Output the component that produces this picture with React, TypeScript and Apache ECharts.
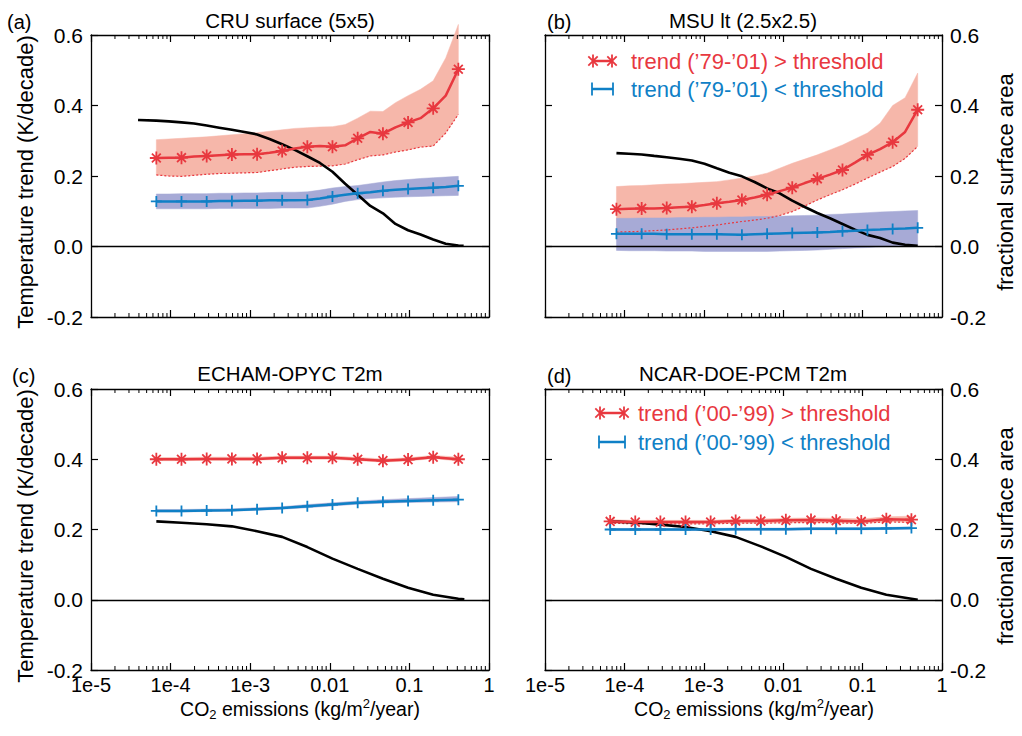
import React, { useEffect, useRef } from "react";
import * as echarts from "echarts";

// ---------- data ----------
const X_LABELS = ["1e-5", "1e-4", "1e-3", "0.01", "0.1", "1"];
const Y_TICKS = [-0.2, 0.0, 0.2, 0.4, 0.6];

const X_A = [6.62e-5, 9.53e-5, 1.37e-4, 1.97e-4, 2.84e-4, 4.08e-4, 5.89e-4, 8.47e-4, 1.22e-3, 1.75e-3, 2.52e-3, 3.63e-3, 5.22e-3, 7.52e-3, 1.08e-2, 1.56e-2, 2.24e-2, 3.23e-2, 4.65e-2, 6.68e-2, 9.62e-2, 0.138, 0.199, 0.286, 0.412];
const X_A13 = [6.62e-5, 1.37e-4, 2.84e-4, 5.89e-4, 1.22e-3, 2.52e-3, 5.22e-3, 1.08e-2, 2.24e-2, 4.65e-2, 9.62e-2, 0.199, 0.412];
const X_B = [7.94e-5, 1.14e-4, 1.65e-4, 2.37e-4, 3.41e-4, 4.9e-4, 7.07e-4, 1.02e-3, 1.46e-3, 2.1e-3, 3.02e-3, 4.36e-3, 6.27e-3, 9.02e-3, 1.3e-2, 1.87e-2, 2.69e-2, 3.88e-2, 5.58e-2, 8.02e-2, 0.115, 0.166, 0.239, 0.343, 0.494];

// (a) CRU surface
const RED_A = [0.251, 0.252, 0.252, 0.255, 0.257, 0.259, 0.261, 0.262, 0.262, 0.266, 0.271, 0.278, 0.283, 0.285, 0.283, 0.287, 0.307, 0.325, 0.32, 0.338, 0.352, 0.364, 0.392, 0.428, 0.503];
const RED_A_HI = [0.303, 0.305, 0.307, 0.309, 0.311, 0.314, 0.317, 0.32, 0.323, 0.327, 0.331, 0.335, 0.337, 0.339, 0.34, 0.346, 0.364, 0.384, 0.383, 0.408, 0.428, 0.446, 0.47, 0.535, 0.63];
const RED_A_LO = [0.203, 0.2, 0.199, 0.202, 0.205, 0.207, 0.208, 0.209, 0.21, 0.215, 0.22, 0.225, 0.227, 0.228, 0.229, 0.234, 0.246, 0.257, 0.26, 0.268, 0.274, 0.282, 0.285, 0.322, 0.375];
const BLUE_A = [0.128, 0.128, 0.128, 0.128, 0.128, 0.129, 0.129, 0.13, 0.13, 0.131, 0.131, 0.131, 0.132, 0.136, 0.142, 0.147, 0.151, 0.154, 0.158, 0.161, 0.163, 0.165, 0.167, 0.169, 0.172];
const BLUE_A_HI = [0.149, 0.149, 0.15, 0.15, 0.15, 0.151, 0.151, 0.152, 0.152, 0.153, 0.154, 0.154, 0.155, 0.16, 0.166, 0.17, 0.173, 0.178, 0.183, 0.187, 0.19, 0.193, 0.195, 0.197, 0.199];
const BLUE_A_LO = [0.107, 0.107, 0.107, 0.107, 0.107, 0.108, 0.108, 0.108, 0.108, 0.108, 0.109, 0.109, 0.109, 0.114, 0.12, 0.128, 0.133, 0.136, 0.138, 0.14, 0.141, 0.142, 0.143, 0.144, 0.145];
const AREA_A_X = [3.9e-5, ...X_A, 0.48];
const AREA_A = [0.359, 0.357, 0.355, 0.352, 0.349, 0.343, 0.337, 0.331, 0.325, 0.318, 0.305, 0.29, 0.274, 0.256, 0.237, 0.212, 0.178, 0.147, 0.115, 0.094, 0.064, 0.046, 0.034, 0.02, 0.008, 0.003, 0.002];

// (b) MSU lt
const RED_B = [0.106, 0.107, 0.108, 0.108, 0.109, 0.111, 0.113, 0.118, 0.123, 0.127, 0.132, 0.139, 0.147, 0.157, 0.167, 0.18, 0.192, 0.204, 0.217, 0.238, 0.26, 0.276, 0.296, 0.325, 0.388];
const RED_B_HI = [0.17, 0.172, 0.173, 0.175, 0.177, 0.178, 0.18, 0.182, 0.184, 0.189, 0.194, 0.2, 0.208, 0.222, 0.236, 0.248, 0.26, 0.274, 0.288, 0.305, 0.322, 0.35, 0.4, 0.422, 0.492];
const RED_B_LO = [0.041, 0.042, 0.043, 0.045, 0.047, 0.05, 0.053, 0.057, 0.061, 0.066, 0.071, 0.075, 0.08, 0.088, 0.099, 0.115, 0.132, 0.147, 0.161, 0.177, 0.194, 0.211, 0.227, 0.25, 0.284];
const BLUE_B = [0.036, 0.036, 0.036, 0.036, 0.035, 0.035, 0.035, 0.035, 0.035, 0.034, 0.033, 0.035, 0.036, 0.037, 0.038, 0.039, 0.04, 0.041, 0.043, 0.045, 0.047, 0.048, 0.05, 0.051, 0.053];
const BLUE_B_HI = [0.08, 0.08, 0.081, 0.081, 0.081, 0.082, 0.082, 0.083, 0.083, 0.084, 0.084, 0.085, 0.085, 0.086, 0.087, 0.088, 0.089, 0.091, 0.092, 0.094, 0.096, 0.098, 0.099, 0.101, 0.102];
const BLUE_B_LO = [-0.011, -0.012, -0.012, -0.012, -0.013, -0.013, -0.013, -0.014, -0.014, -0.014, -0.014, -0.014, -0.014, -0.013, -0.012, -0.011, -0.01, -0.008, -0.006, -0.004, -0.003, -0.001, 0.0, 0.002, 0.003];
const AREA_B = [0.265, 0.263, 0.261, 0.257, 0.253, 0.249, 0.244, 0.235, 0.222, 0.209, 0.199, 0.183, 0.165, 0.151, 0.13, 0.112, 0.095, 0.08, 0.064, 0.048, 0.033, 0.024, 0.011, 0.005, 0.002];

// (c) ECHAM-OPYC T2m
const RED_C = [0.4, 0.4, 0.401, 0.401, 0.401, 0.404, 0.404, 0.404, 0.4, 0.396, 0.399, 0.406, 0.4];
const RED_C_HI = [0.405, 0.405, 0.406, 0.406, 0.406, 0.409, 0.409, 0.409, 0.405, 0.401, 0.404, 0.411, 0.406];
const RED_C_LO = [0.396, 0.396, 0.397, 0.397, 0.397, 0.4, 0.4, 0.4, 0.396, 0.392, 0.395, 0.402, 0.395];
const BLUE_C = [0.253, 0.253, 0.254, 0.255, 0.258, 0.261, 0.266, 0.271, 0.276, 0.279, 0.281, 0.283, 0.285];
const BLUE_C_HI = [0.257, 0.257, 0.258, 0.259, 0.262, 0.265, 0.271, 0.276, 0.281, 0.285, 0.288, 0.291, 0.294];
const BLUE_C_LO = [0.25, 0.25, 0.251, 0.252, 0.255, 0.258, 0.262, 0.267, 0.272, 0.275, 0.277, 0.278, 0.279];
const AREA_C_X = [...X_A13, 0.49];
const AREA_C = [0.223, 0.219, 0.215, 0.209, 0.195, 0.179, 0.15, 0.117, 0.088, 0.06, 0.034, 0.014, 0.003, 0.001];

// (d) NCAR-DOE-PCM T2m
const RED_D = [0.223, 0.221, 0.221, 0.221, 0.221, 0.224, 0.224, 0.226, 0.227, 0.225, 0.223, 0.229, 0.228];
const RED_D_HI = [0.228, 0.226, 0.226, 0.226, 0.226, 0.229, 0.23, 0.232, 0.233, 0.232, 0.23, 0.236, 0.238];
const RED_D_LO = [0.218, 0.216, 0.216, 0.216, 0.216, 0.218, 0.218, 0.219, 0.22, 0.219, 0.217, 0.222, 0.22];
const BLUE_D = [0.2, 0.2, 0.2, 0.2, 0.2, 0.201, 0.201, 0.201, 0.202, 0.202, 0.202, 0.203, 0.204];
const BLUE_D_HI = [0.203, 0.203, 0.203, 0.203, 0.203, 0.204, 0.204, 0.204, 0.205, 0.205, 0.205, 0.206, 0.207];
const BLUE_D_LO = [0.197, 0.197, 0.197, 0.197, 0.197, 0.198, 0.198, 0.198, 0.199, 0.199, 0.199, 0.2, 0.201];
const AREA_D_X = [...X_A13, 0.495];
const AREA_D = [0.223, 0.22, 0.214, 0.207, 0.195, 0.179, 0.152, 0.122, 0.088, 0.06, 0.034, 0.014, 0.003, 0.0];

const TITLES = ["CRU surface (5x5)", "MSU lt (2.5x2.5)", "ECHAM-OPYC T2m", "NCAR-DOE-PCM T2m"];
const PANEL_LABELS = ["(a)", "(b)", "(c)", "(d)"];

// ---------- style ----------
const FONT = "'Liberation Sans', Arial, Helvetica, sans-serif";
const RED = "#e8383f";
const BLUE = "#0f80c6";
const RED_BAND = "#f6b7aa";
const BLUE_BAND = "#a7aad6";

const GRIDS = [
  { left: 91, top: 35, width: 398, height: 282 },
  { left: 545, top: 35, width: 397, height: 282 },
  { left: 91, top: 389, width: 398, height: 281 },
  { left: 545, top: 389, width: 397, height: 281 },
];

const STAR = "path://M5,0L5,10M0,5L10,5M1.6,1.6L8.4,8.4M8.4,1.6L1.6,8.4";
const PLUS = "path://M0,5L10,5M5,0L5,10";

const MINOR: number[] = [];
for (let e = -5; e < 0; e++) for (let m = 2; m <= 9; m++) MINOR.push(m * Math.pow(10, e));

// shaded band between lo and hi, drawn as one polygon through the axis scales
function band(g: number, xs: number[], lo: number[], hi: number[], color: string) {
  return {
    type: "custom", xAxisIndex: 2 * g, yAxisIndex: 2 * g, silent: true,
    data: xs.map((x, i) => [x, lo[i], hi[i]]),
    encode: { x: 0, y: [1, 2] },
    renderItem: (params: any, api: any) => {
      if (params.dataIndex !== 0) return null;
      const pts: number[][] = [];
      for (let i = 0; i < xs.length; i++) pts.push(api.coord([xs[i], lo[i]]));
      for (let i = xs.length - 1; i >= 0; i--) pts.push(api.coord([xs[i], hi[i]]));
      return { type: "polygon", shape: { points: pts }, style: { fill: color, stroke: color, lineWidth: 0.5 } };
    },
  };
}

function dotted(g: number, xs: number[], ys: number[]) {
  return {
    type: "line", xAxisIndex: 2 * g, yAxisIndex: 2 * g, data: xs.map((x, i) => [x, ys[i]]), symbol: "none",
    lineStyle: { color: RED, width: 1.2, type: [2, 2] }, silent: true,
  };
}

function trend(g: number, xs: number[], ys: number[], color: string, sym: string, size: number, every: number) {
  return {
    type: "line", xAxisIndex: 2 * g, yAxisIndex: 2 * g,
    data: xs.map((x, i) => ({ value: [x, ys[i]], symbol: i % every === 0 ? sym : "none" })),
    symbolSize: size, showAllSymbol: true,
    lineStyle: { color, width: 2.5 },
    itemStyle: { color, borderColor: color, borderWidth: 1.8 },
    silent: true,
  };
}

function area(g: number, xs: number[], ys: number[]) {
  return {
    type: "line", xAxisIndex: 2 * g, yAxisIndex: 2 * g + 1, data: xs.map((x, i) => [x, ys[i]]), symbol: "none",
    lineStyle: { color: "#000", width: 2.6 }, silent: true,
    markLine: {
      silent: true, symbol: ["none", "none"], label: { show: false },
      lineStyle: { color: "#000", width: 1.3, type: "solid" }, data: [{ yAxis: 0 }],
    },
  };
}

function minorTicks(g: number) {
  return {
    type: "custom", xAxisIndex: 2 * g, yAxisIndex: 2 * g, silent: true, z: 10,
    data: MINOR.map((v) => [v, 0]),
    renderItem: (params: any, api: any) => {
      const x = api.coord([api.value(0), 0])[0];
      const cs = params.coordSys;
      const b = cs.y + cs.height;
      return {
        type: "group",
        children: [
          { type: "line", shape: { x1: x, y1: b, x2: x, y2: b - 4 }, style: { stroke: "#000", lineWidth: 1 } },
          { type: "line", shape: { x1: x, y1: cs.y, x2: x, y2: cs.y + 4 }, style: { stroke: "#000", lineWidth: 1 } },
        ],
      };
    },
  };
}

function legendItem(x0: number, x1: number, tx: number, y: number, color: string, kind: "star" | "plus", text: string) {
  const ch: any[] = [
    { type: "line", shape: { x1: x0, y1: y, x2: x1, y2: y }, style: { stroke: color, lineWidth: 2.5 } },
  ];
  for (const cx of [x0, x1]) {
    const r = 6.5;
    ch.push({ type: "line", shape: { x1: cx, y1: y - r, x2: cx, y2: y + r }, style: { stroke: color, lineWidth: 1.8 } });
    if (kind === "star") {
      const d = r * 0.72;
      ch.push({ type: "line", shape: { x1: cx - d, y1: y - d, x2: cx + d, y2: y + d }, style: { stroke: color, lineWidth: 1.8 } });
      ch.push({ type: "line", shape: { x1: cx - d, y1: y + d, x2: cx + d, y2: y - d }, style: { stroke: color, lineWidth: 1.8 } });
    }
  }
  ch.push({
    type: "text", x: tx, y,
    style: { text, fill: color, fontSize: 22, fontFamily: FONT, align: "left", verticalAlign: "middle" },
  });
  return { type: "group", children: ch, silent: true };
}

function txt(x: number, y: number, text: string, size: number, align = "center", rotation = 0) {
  return {
    type: "text", x, y, rotation, silent: true,
    style: { text, fill: "#000", fontSize: size, fontFamily: FONT, align, verticalAlign: "middle" },
  };
}

function xTitle(x: number, y: number) {
  return {
    type: "text", x, y, silent: true,
    style: {
      text: "{n|CO}{s|2}{n| emissions (kg/m}{p|2}{n|/year)}",
      align: "center", verticalAlign: "middle", fill: "#000",
      rich: {
        n: { fontSize: 19.5, lineHeight: 24, fontFamily: FONT, fill: "#000" },
        s: { fontSize: 13, lineHeight: 13, fontFamily: FONT, verticalAlign: "bottom", fill: "#000" },
        p: { fontSize: 13, lineHeight: 13, fontFamily: FONT, verticalAlign: "top", fill: "#000" },
      },
    },
  };
}

export default function App() {
  const ref = useRef<HTMLDivElement>(null);
  useEffect(() => {
    document.body.style.margin = "0";
    const chart = echarts.init(ref.current!, null, { renderer: "svg" });
    const axisLine = { show: true, onZero: false, lineStyle: { color: "#000", width: 1.3 } };
    const axisTick = { show: true, inside: true, length: 7, lineStyle: { color: "#000", width: 1.2 } };
    const xAxis: any[] = [];
    const yAxis: any[] = [];
    GRIDS.forEach((_, g) => {
      for (const pos of ["bottom", "top"]) {
        xAxis.push({
          gridIndex: g, type: "log", logBase: 10, min: 1e-5, max: 1, splitNumber: 5, position: pos,
          axisLine, axisTick, splitLine: { show: false }, minorTick: { show: false },
          axisLabel: {
            show: pos === "bottom" && g >= 2, color: "#000", fontSize: 20, fontFamily: FONT, margin: 5,
            formatter: (v: number) => X_LABELS[Math.round(Math.log10(v)) + 5] ?? "",
          },
        });
      }
      for (const pos of ["left", "right"]) {
        yAxis.push({
          gridIndex: g, type: "value", min: Y_TICKS[0], max: Y_TICKS[Y_TICKS.length - 1], interval: 0.2, position: pos,
          axisLine, axisTick, splitLine: { show: false },
          axisLabel: {
            show: (pos === "left") === (g % 2 === 0), color: "#000", fontSize: 21, fontFamily: FONT, margin: 8,
            formatter: (v: number) => v.toFixed(1),
          },
        });
      }
    });

    const series: any[] = [
      // (a)
      band(0, X_A, RED_A_LO, RED_A_HI, RED_BAND),
      band(0, X_A, BLUE_A_LO, BLUE_A_HI, BLUE_BAND),
      dotted(0, X_A, RED_A_LO),
      area(0, AREA_A_X, AREA_A),
      trend(0, X_A, RED_A, RED, STAR, 13, 2),
      trend(0, X_A, BLUE_A, BLUE, PLUS, 11, 2),
      minorTicks(0),
      // (b)
      band(1, X_B, RED_B_LO, RED_B_HI, RED_BAND),
      band(1, X_B, BLUE_B_LO, BLUE_B_HI, BLUE_BAND),
      dotted(1, X_B, RED_B_LO),
      area(1, X_B, AREA_B),
      trend(1, X_B, RED_B, RED, STAR, 13, 2),
      trend(1, X_B, BLUE_B, BLUE, PLUS, 11, 2),
      minorTicks(1),
      // (c)
      band(2, X_A13, RED_C_LO, RED_C_HI, RED_BAND),
      band(2, X_A13, BLUE_C_LO, BLUE_C_HI, BLUE_BAND),
      area(2, AREA_C_X, AREA_C),
      trend(2, X_A13, RED_C, RED, STAR, 13, 1),
      trend(2, X_A13, BLUE_C, BLUE, PLUS, 11, 1),
      minorTicks(2),
      // (d)
      band(3, X_A13, RED_D_LO, RED_D_HI, RED_BAND),
      band(3, X_A13, BLUE_D_LO, BLUE_D_HI, BLUE_BAND),
      dotted(3, X_A13, RED_D_LO),
      area(3, AREA_D_X, AREA_D),
      trend(3, X_A13, RED_D, RED, STAR, 13, 1),
      trend(3, X_A13, BLUE_D, BLUE, PLUS, 11, 1),
      minorTicks(3),
    ];

    const graphic: any[] = [
      txt(7, 22, PANEL_LABELS[0], 20, "left"),
      txt(547, 22, PANEL_LABELS[1], 20, "left"),
      txt(12, 376, PANEL_LABELS[2], 20, "left"),
      txt(547, 376, PANEL_LABELS[3], 20, "left"),
      txt(290, 20, TITLES[0], 20.5),
      txt(743, 20, TITLES[1], 20.5),
      txt(290, 373, TITLES[2], 20.5),
      txt(743, 373, TITLES[3], 20.5),
      txt(25, 182, "Temperature trend (K/decade)", 22, "center", Math.PI / 2),
      txt(25, 536, "Temperature trend (K/decade)", 22, "center", Math.PI / 2),
      txt(1005, 182, "fractional surface area", 22, "center", Math.PI / 2),
      txt(1005, 536, "fractional surface area", 22, "center", Math.PI / 2),
      xTitle(300, 709),
      xTitle(754, 709),
      legendItem(593, 612, 631, 61, RED, "star", "trend (\u201979-\u201901) > threshold"),
      legendItem(592, 613, 631, 89, BLUE, "plus", "trend (\u201979-\u201901) < threshold"),
      legendItem(600, 624, 638, 413, RED, "star", "trend (\u201900-\u201999) > threshold"),
      legendItem(599, 625, 638, 442, BLUE, "plus", "trend (\u201900-\u201999) < threshold"),
    ];

    chart.setOption({
      animation: false,
      backgroundColor: "#fff",
      grid: GRIDS.map((g) => ({ ...g, containLabel: false })),
      xAxis,
      yAxis,
      series,
      graphic,
    });
    return () => chart.dispose();
  }, []);
  return <div ref={ref} style={{ position: "absolute", left: 0, top: 0, width: 1022, height: 736 }} />;
}
